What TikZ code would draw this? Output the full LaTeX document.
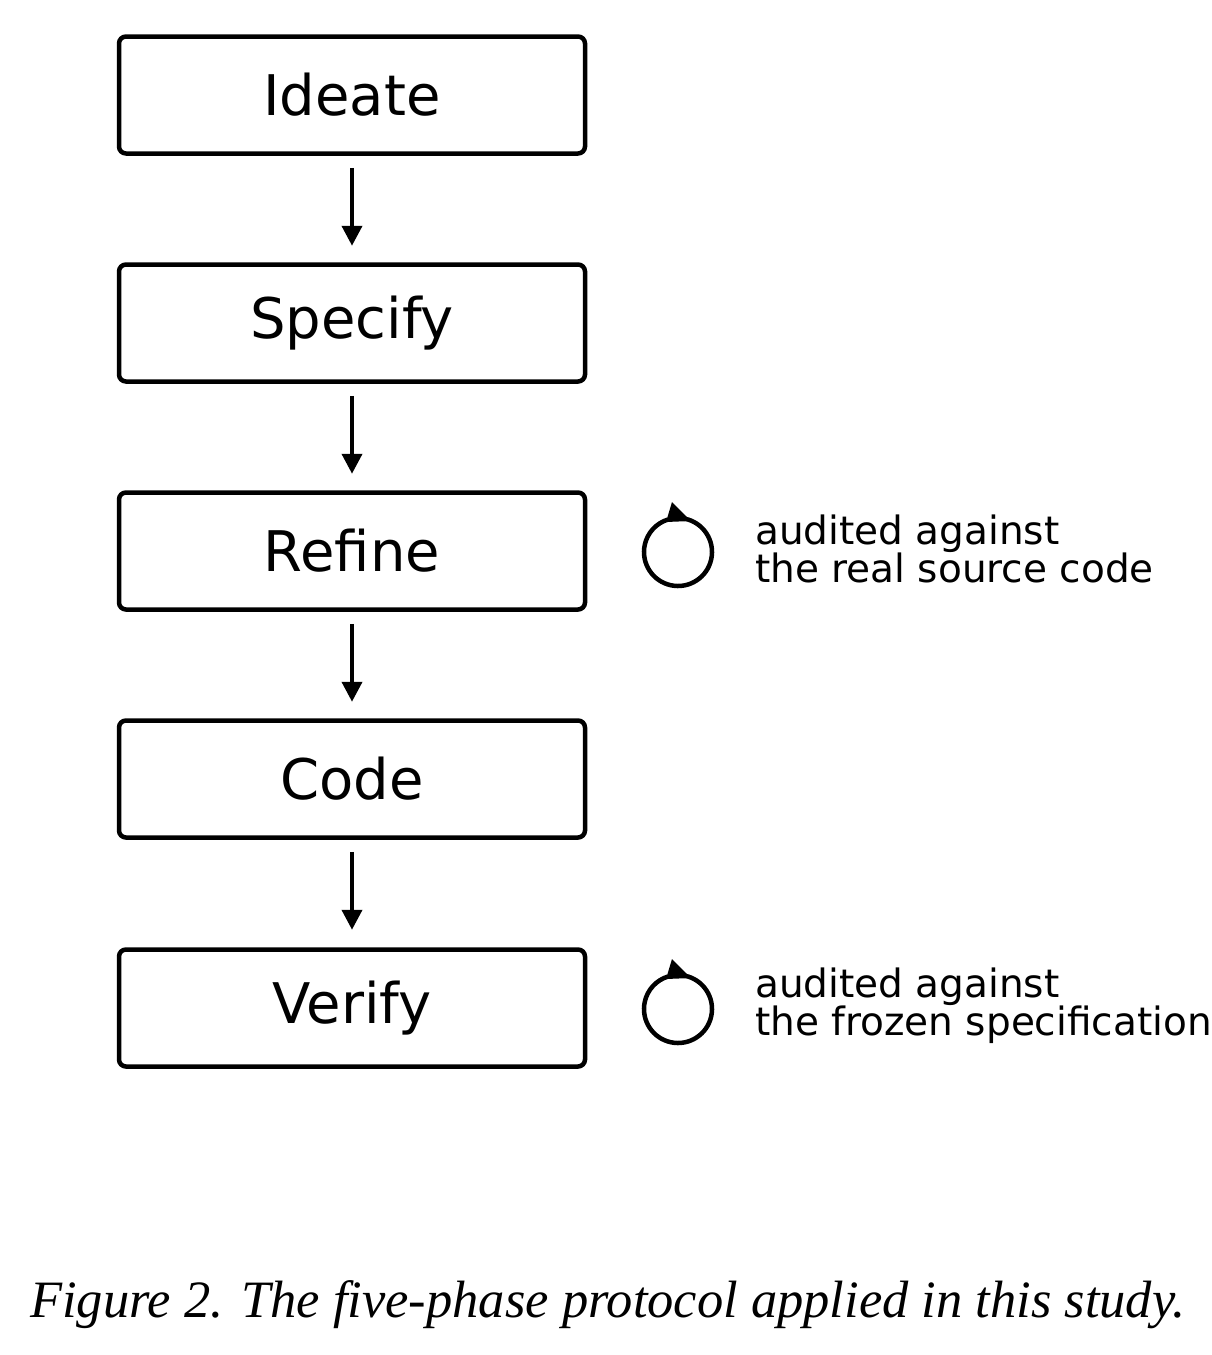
\documentclass[tikz,border=0pt]{standalone}
\usepackage{fontspec}
\setmainfont{DejaVu Sans}
\newfontfamily\capfont{Liberation Serif}
\usetikzlibrary{arrows.meta}
\begin{document}
\begin{tikzpicture}[x=1pt,y=-1pt,
  box/.style={draw,line width=4.5pt,rounded corners=7pt,minimum width=466pt,minimum height=117pt,font=\fontsize{56}{60}\selectfont},
  arr/.style={line width=4pt,-{Triangle[length=20pt,width=20pt]}},
  note/.style={anchor=west,align=left,font=\fontsize{39}{38}\selectfont,inner sep=0pt}]
\useasboundingbox (0,0) rectangle (1212,1355);
\node[box] (i) at (352,95) {Ideate};
\node[box] (s) at (352,323) {Specify};
\node[box] (r) at (352,551) {Refine};
\node[box] (c) at (352,779) {Code};
\node[box] (v) at (352,1008) {Verify};
\draw[arr] (i.south)++(0,12) -- ++(0,78);
\draw[arr] (s.south)++(0,12) -- ++(0,78);
\draw[arr] (r.south)++(0,12) -- ++(0,78);
\draw[arr] (c.south)++(0,12) -- ++(0,78);
\foreach \cy/\t/\nm in {552/{audited against\\the real source code}/n1, 1009/{audited against\\the frozen specification}/n2}{
  \coordinate (o\nm) at (678,\cy);
  \draw[line width=4.5pt] (o\nm) ++(-78:34) arc[start angle=-78,end angle=253,radius=34];
  \fill (666,\cy-30) -- (672,\cy-50) -- (691,\cy-31) -- cycle;
  \node[note] (\nm) at (755,\cy-3) {\t};
}
\node[font=\capfont\itshape\fontsize{52.5}{56}\selectfont] (cap) at (608,1305) {Figure 2. The five-phase protocol applied in this study.};
\end{tikzpicture}
\end{document}
